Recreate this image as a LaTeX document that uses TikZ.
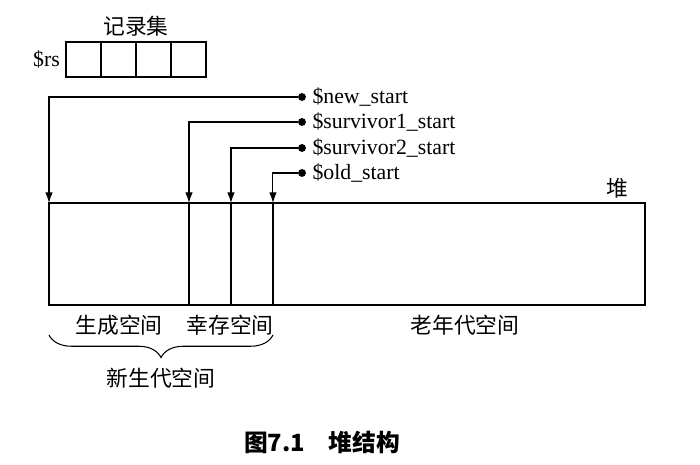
\documentclass[tikz,border=0pt]{standalone}
\usepackage{fontspec}
\setmainfont{Liberation Serif}
\newfontfamily\cjk{Noto Sans CJK SC}
\usetikzlibrary{positioning,arrows.meta,decorations.pathreplacing}

\begin{document}
\begin{tikzpicture}[x=0.02cm,y=-0.02cm, font=\fontsize{12.4}{15}\selectfont,
    part/.style={draw,line width=1.1pt,minimum height=2.04cm,outer sep=0pt,inner sep=0pt},
    cell/.style={draw,line width=1.1pt,minimum size=0.7cm,outer sep=0pt,inner sep=0pt},
    ptrdot/.style={fill=black,circle,inner sep=0pt,minimum size=4.5pt},
    ptr/.style={line width=0.6pt,-{Latex[length=6pt,width=4.2pt]}}]
                      \useasboundingbox (0,0) rectangle (700,465);

                      % record set
                      \foreach \i in {1,...,4}
                        \node[cell] (c\i) at ({48.5+35*\i},59.5) {};
                      \node[left=0pt of c1] (rs) {\$rs};
                      \node[above=0pt of c2.north east] (rsname) {\cjk 记录集};

                      % heap
                      \node[part,minimum width=2.8cm] (gen) at (119,254) {};
                      \node[part,minimum width=0.84cm,right=0pt of gen] (surv1) {};
                      \node[part,minimum width=0.84cm,right=0pt of surv1] (surv2) {};
                      \node[part,minimum width=7.44cm,right=0pt of surv2] (old) {};
                      \node at (617,188) (heap) {\cjk 堆};

                      % pointers
                      \node[ptrdot] (dnew) at (302,97) {};
                      \node[ptrdot] (dsurv1) at (302,122) {};
                      \node[ptrdot] (dsurv2) at (302,148) {};
                      \node[ptrdot] (dold) at (302,173) {};
                      \node[right=0pt of dnew] (tnew) {\$new\_start};
                      \node[right=0pt of dsurv1] (tsurv1) {\$survivor1\_start};
                      \node[right=0pt of dsurv2] (tsurv2) {\$survivor2\_start};
                      \node[right=0pt of dold] (told) {\$old\_start};
                      \draw[ptr] (dnew) -| (gen.north west);
                      \draw[ptr] (dsurv1) -| (surv1.north west);
                      \draw[ptr] (dsurv2) -| (surv2.north west);
                      \draw[ptr] (dold) -| (old.north west);

                      % space names
                      \node at (119,325) (lgen) {\cjk 生成空间};
                      \node at (230,325) (lsurv) {\cjk 幸存空间};
                      \node at (465,325) (lold) {\cjk 老年代空间};
                      \coordinate (bl) at (49,335);
                      \coordinate (br) at (273,335);
                      \draw[line width=0.6pt,decorate,decoration={brace,mirror,amplitude=0.45cm}] (bl) -- (br);
                      \node at (161,378) (lyoung) {\cjk 新生代空间};

                      \node at (322,442) (cap) {\fontsize{13.5}{16}\selectfont\cjk\bfseries 图7.1\quad 堆结构};
                    \end{tikzpicture}
\end{document}
